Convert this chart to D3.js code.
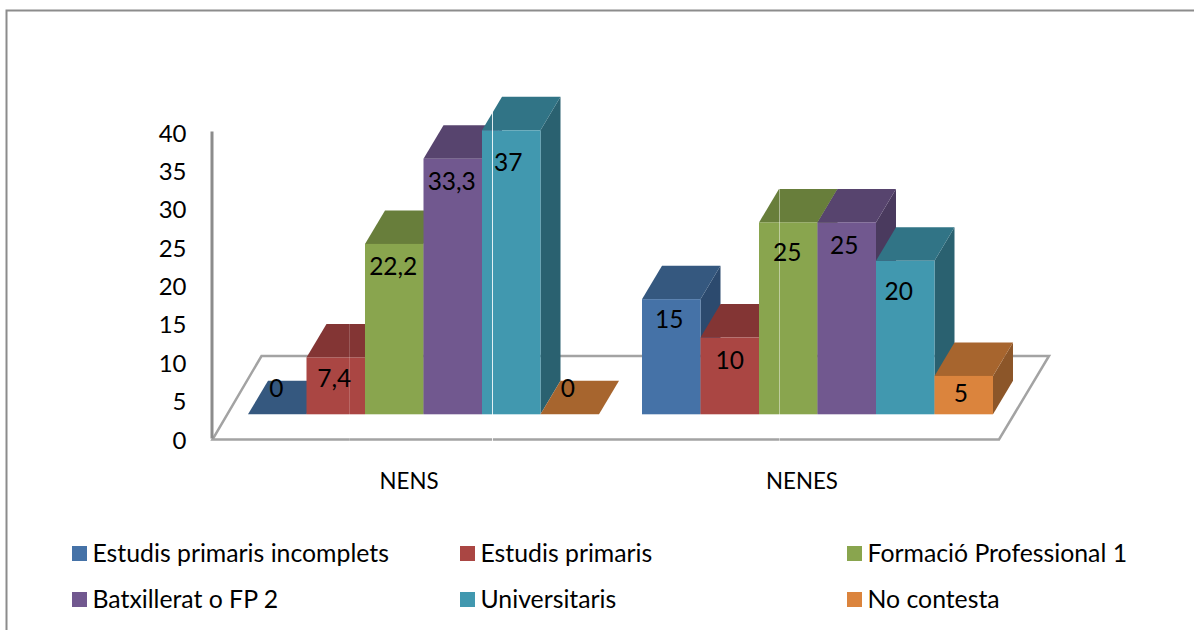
<!DOCTYPE html>
<html>
<head>
<meta charset="utf-8">
<script src="https://cdn.jsdelivr.net/npm/d3@7/dist/d3.min.js"></script>
<style>
html,body{margin:0;padding:0;background:#fff;overflow:hidden}
svg{display:block}
text{font-family:Lato,"Open Sans",sans-serif;fill:#000}
</style>
</head>
<body>
<svg id="chart" width="1194" height="630"></svg>
<script>
const groups = ["NENS", "NENES"];
const seriesNames = ["Estudis primaris incomplets", "Estudis primaris", "Formació Professional 1", "Batxillerat o FP 2", "Universitaris", "No contesta"];
const nensValues = [0, 7.4, 22.2, 33.3, 37, 0];
const nenesValues = [15, 10, 25, 25, 20, 5];
const valueLabels = [["0", "7,4", "22,2", "33,3", "37", "0"], ["15", "10", "25", "25", "20", "5"]];
const yTicks = [0, 5, 10, 15, 20, 25, 30, 35, 40];

const frontColors = ["#4572a7", "#aa4643", "#89a54e", "#71588f", "#4198af", "#db843d"];
const topColors = ["#35587f", "#833534", "#687e3b", "#57446e", "#317486", "#a7652e"];
const sideColors = ["#2c4a6e", "#6f2d2c", "#586b32", "#4a3a5e", "#2a6170", "#8c5629"];

// layout constants
const depth = {dx: 20, dy: 33.5};      // oblique offset of a bar's back face
const floorShift = 24;                 // bars stand this far behind the axis baseline
const groupStart = {NENS: 248, NENES: 642};
const groupWidth = 351;
const labelNudge = [
  [[-1, -26], [-1.5, 21], [-1, 23], [-1, 23], [-3, 32], [-2, -26]],
  [[-2, 21], [0, 23], [-1, 30], [-2.5, 23], [-6.5, 31], [-3, 18]]
];

const svg = d3.select("#chart");
const y = d3.scaleLinear().domain([0, 40]).range([438, 131]);
const band = d3.scaleBand().domain(d3.range(seriesNames.length)).range([0, groupWidth]);
const poly = d3.line();

// chart border (only top and left reach the picture)
svg.append("path").attr("d", "M1194,10.5H6.5V630").attr("fill", "none").attr("stroke", "#8c8c8c").attr("stroke-width", 2);

// floor
svg.append("path")
  .attr("d", poly([[212.5, 439.5], [999, 439.5], [1049, 356], [261.5, 356]]) + "Z")
  .attr("fill", "#fff").attr("stroke", "#a3a3a3").attr("stroke-width", 2.5);

// y axis
const axis = svg.append("g").attr("transform", "translate(211.5,0)")
  .call(d3.axisLeft(y).tickValues(yTicks).tickSize(0).tickPadding(25).tickFormat(d3.format("d")));
axis.select(".domain").attr("stroke", "#8c8c8c").attr("stroke-width", 3);
axis.selectAll("text").attr("font-size", 24).attr("dy", 10).style("font-family", "Lato");
axis.selectAll(".tick text").attr("x", -25);

// bars
[nensValues, nenesValues].forEach((values, gi) => {
  const g = svg.append("g").attr("transform", `translate(${groupStart[groups[gi]]},${-floorShift + 0.3})`);
  values.forEach((v, i) => {
    const x0 = band(i), x1 = x0 + band.bandwidth();
    const yb = y(0), yt = y(v);
    const {dx, dy} = depth;
    g.append("path").attr("fill", sideColors[i])
      .attr("d", poly([[x1, yb], [x1 + dx, yb - dy], [x1 + dx, yt - dy], [x1, yt]]) + "Z");
    g.append("path").attr("fill", topColors[i])
      .attr("d", poly([[x0, yt], [x0 + dx, yt - dy], [x1 + dx, yt - dy], [x1, yt]]) + "Z");
    if (v > 0) g.append("rect").attr("x", x0).attr("y", yt).attr("width", band.bandwidth()).attr("height", yb - yt).attr("fill", frontColors[i]);
  });
});

// faint scan seams crossing the image in the reference
[[349.5, 324, 442, "#fff", 0.18], [492.5, 108, 442, "#fff", 0.85], [779.5, 189, 442, "#fff", 0.45]].forEach(([x, a, b, c, o]) => {
  svg.append("line").attr("x1", x).attr("x2", x).attr("y1", a).attr("y2", b).attr("stroke", c).attr("stroke-opacity", o);
});

// value labels, on top of all bars
[nensValues, nenesValues].forEach((values, gi) => {
  values.forEach((v, i) => {
    const [nx, ny] = labelNudge[gi][i];
    svg.append("text")
      .attr("x", groupStart[groups[gi]] + band(i) + band.bandwidth() / 2 + nx)
      .attr("y", y(v) - floorShift + ny + 8.5)
      .attr("text-anchor", "middle").attr("font-size", 24.5)
      .text(valueLabels[gi][i]);
  });
});

// category labels
const xCat = d3.scalePoint().domain(groups).range([409, 802]);
groups.forEach(g => {
  svg.append("text").attr("x", xCat(g)).attr("y", 488.5).attr("text-anchor", "middle").attr("font-size", 22.3).text(g);
});

// legend
const legendX = d3.scaleOrdinal().domain([0, 1, 2]).range([72, 460, 847]);
const legendY = d3.scaleOrdinal().domain([0, 1]).range([546, 592]);
seriesNames.forEach((name, i) => {
  const col = i % 3, row = Math.floor(i / 3);
  svg.append("rect").attr("x", legendX(col)).attr("y", legendY(row)).attr("width", 15).attr("height", 15).attr("fill", frontColors[i]);
  svg.append("text").attr("x", legendX(col) + 20.5).attr("y", legendY(row) + 15.5).attr("font-size", 24.8).text(name);
});
</script>
</body>
</html>
